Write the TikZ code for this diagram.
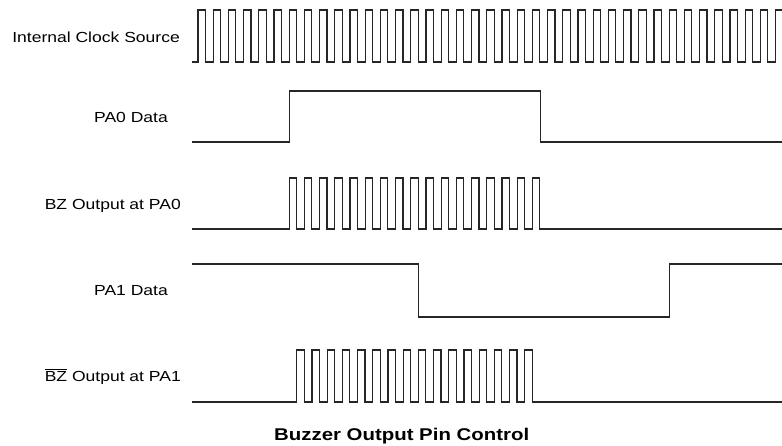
\documentclass[tikz,border=0pt]{standalone}
\usepackage{fontspec}
\setmainfont{Liberation Sans}[FakeStretch=1.2]
\usetikzlibrary{positioning}

\begin{document}
\begin{tikzpicture}[
    x=1pt, y=-1pt,
    lbl/.style={anchor=base east, inner sep=0pt, font=\fontsize{14.6}{16}\selectfont},
    wave/.style={line width=1.1pt, line join=miter, black!85}
]
\useasboundingbox (0,0) rectangle (782,445);

\node[lbl] (clk) at (180,42) {Internal Clock Source};
\node[lbl] (pa0) at (168,122) {PA0 Data};
\node[lbl] (bz0) at (181,209) {BZ Output at PA0};
\node[lbl] (pa1) at (168,295.5) {PA1 Data};
\node[lbl] (bz1) at (181,381) {$\overline{\mbox{BZ}}$ Output at PA1};
\node[anchor=base west, inner sep=0pt, font=\bfseries\fontsize{17}{20}\selectfont] (title) at (274,440) {Buzzer Output Pin Control};

\draw[wave] (192,62) foreach \n in {0,...,38} {
    -- ({198+\n*15.2},62) -- ({198+\n*15.2},10) -- ({205.4+\n*15.2},10) -- ({205.4+\n*15.2},62)};

\draw[wave] (192,142) -- (289.5,142) -- (289.5,91) -- (540.5,91) -- (540.5,142) -- (782,142);

\draw[wave] (192,229) foreach \n in {6,...,22} {
    -- ({198+\n*15.2},229) -- ({198+\n*15.2},178) -- ({205.4+\n*15.2},178) -- ({205.4+\n*15.2},229)} -- (782,229);

\draw[wave] (192,264) -- (418.8,264) -- (418.8,317) -- (669.2,317) -- (669.2,264) -- (782,264);

\draw[wave] (192,402) foreach \n in {6,...,21} {
    -- ({205.6+\n*15.2},402) -- ({205.6+\n*15.2},350) -- ({213+\n*15.2},350) -- ({213+\n*15.2},402)} -- (782,402);
\end{tikzpicture}
\end{document}
